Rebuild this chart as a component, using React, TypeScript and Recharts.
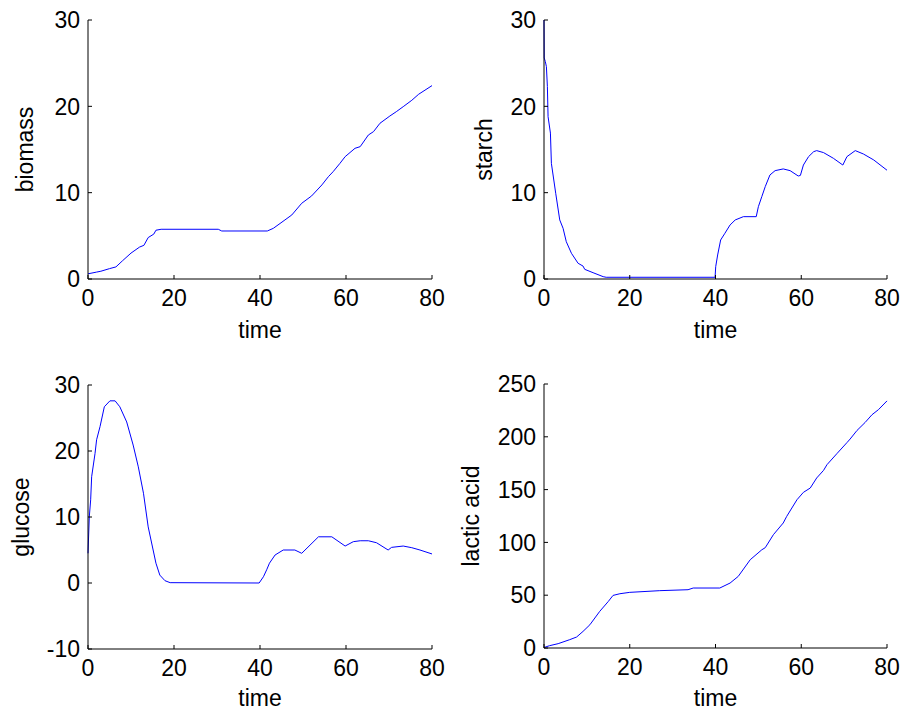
import React from 'react';
import { LineChart, Line, XAxis, YAxis } from 'recharts';

// ---- fermentation time courses (time in h) ----
const biomassTime = [0, 2, 3, 5, 6.5, 8, 10, 12, 13, 14, 15.3, 15.8, 17, 30.3, 31.1, 41.7, 43.1, 45.8, 47.4, 49.7, 52, 54.4, 55.9, 57, 58.6, 59.8, 62.1, 63.3, 65.2, 66.4, 67.9, 70.2, 71.7, 73.3, 75.3, 76.9, 80];
const biomassValues = [0.6, 0.8, 0.9, 1.2, 1.4, 2.1, 3.0, 3.7, 3.9, 4.8, 5.2, 5.65, 5.76, 5.76, 5.56, 5.56, 5.87, 6.84, 7.42, 8.77, 9.62, 10.9, 11.85, 12.43, 13.4, 14.17, 15.14, 15.33, 16.68, 17.07, 18.04, 18.88, 19.38, 19.96, 20.7, 21.4, 22.4];

const starchTime = [0, 0.05, 0.3, 0.56, 0.79, 0.95, 1.5, 1.72, 2.73, 3.67, 4.45, 5.2, 6.4, 7.95, 9.1, 9.5, 11.45, 13.8, 14.5, 39.9, 40.05, 40.5, 41.2, 42.2, 43.4, 44.6, 46.5, 49.5, 50, 50.8, 51.6, 52.7, 53.9, 55.8, 57.4, 59.3, 59.8, 60.5, 61.7, 62.9, 63.6, 65.2, 67.5, 69.7, 70.65, 72.6, 74.5, 76.9, 80];
const starchValues = [30, 25.6, 25.2, 24.6, 22.3, 18.8, 16.9, 13.4, 9.93, 6.84, 5.87, 4.32, 2.98, 1.82, 1.5, 1.12, 0.73, 0.27, 0.2, 0.2, 1.43, 2.78, 4.52, 5.3, 6.26, 6.84, 7.22, 7.22, 8.38, 9.54, 10.7, 12.05, 12.55, 12.75, 12.55, 11.93, 12.0, 13.2, 14.17, 14.75, 14.87, 14.64, 13.98, 13.2, 14.17, 14.87, 14.48, 13.79, 12.6];

const glucoseTime = [0, 0.3, 0.62, 0.85, 1.63, 2.0, 2.8, 3.8, 5.1, 6.3, 7.4, 9.0, 10.5, 11.7, 12.9, 14.0, 15.8, 16.7, 17.9, 19.1, 39.8, 40.8, 41.55, 42.2, 43.5, 45.4, 48.1, 49.7, 53.6, 56.7, 59.8, 61.7, 63.3, 65.2, 67.1, 69.8, 70.6, 73.3, 75.3, 77.2, 80];
const glucoseValues = [4.5, 10.0, 12.6, 16.1, 19.6, 21.7, 23.7, 26.7, 27.6, 27.6, 26.7, 24.4, 20.9, 17.6, 13.6, 8.5, 3.0, 1.2, 0.35, 0.05, 0, 0.95, 2.0, 3.0, 4.24, 5.0, 5.0, 4.5, 7.0, 7.0, 5.6, 6.26, 6.4, 6.4, 6.1, 5.0, 5.4, 5.6, 5.35, 5.0, 4.4];

const lacticTime = [0, 1.3, 3.3, 6.0, 7.6, 9.1, 10.7, 13.0, 15.0, 16.1, 17.7, 20.0, 27.0, 33.6, 34.8, 41.0, 43.4, 45.3, 48.1, 50.8, 51.6, 53.5, 55.8, 56.6, 59.0, 60.5, 62.1, 63.6, 65.2, 66.0, 68.3, 70.7, 71.4, 73.0, 74.9, 76.5, 78.0, 80];
const lacticValues = [0.5, 2.2, 4.1, 7.9, 10.4, 15.7, 22, 34.7, 44.1, 49.8, 51.4, 52.7, 54.3, 55.2, 56.8, 56.8, 61.5, 67.8, 83.6, 93, 95, 107.3, 118.4, 124.6, 140.4, 147.4, 151.5, 161, 168.2, 173.6, 184, 194.7, 197.9, 206, 213.6, 220.9, 225.7, 234];

// ---- axis ticks ----
const timeTicks = [0, 20, 40, 60, 80];
const biomassTicks = [0, 10, 20, 30];
const starchTicks = [0, 10, 20, 30];
const glucoseTicks = [-10, 0, 10, 20, 30];
const lacticTicks = [0, 50, 100, 150, 200, 250];

const FONT = '"Liberation Sans", Arial, Helvetica, sans-serif';
const FS = 23;
const TICK_LEN = 4;

const zip = (t: number[], v: number[]) => t.map((ti, i) => ({ t: ti, v: v[i] }));

// MATLAB-style inward ticks on all four sides of the box
const BottomTick = (props: any) => {
  const { x, y, payload } = props;
  return (
    <g>
      <line x1={x} y1={y} x2={x} y2={y - TICK_LEN} stroke="#000" strokeWidth={1} />
      <text x={x} y={y + 26.5} textAnchor="middle" fontFamily={FONT} fontSize={FS} fill="#000">
        {payload.value}
      </text>
    </g>
  );
};
const TopTick = (props: any) => {
  const { x, y } = props;
  return <line x1={x} y1={y} x2={x} y2={y + TICK_LEN} stroke="#000" strokeWidth={1} />;
};
const LeftTick = (props: any) => {
  const { x, y, payload } = props;
  return (
    <g>
      <line x1={x} y1={y} x2={x + TICK_LEN} y2={y} stroke="#000" strokeWidth={1} />
      <text x={x - 8} y={y} dy="0.36em" textAnchor="end" fontFamily={FONT} fontSize={FS} fill="#000">
        {payload.value}
      </text>
    </g>
  );
};
const RightTick = (props: any) => {
  const { x, y } = props;
  return <line x1={x} y1={y} x2={x - TICK_LEN} y2={y} stroke="#000" strokeWidth={1} />;
};

type PanelProps = {
  left: number;
  top: number;
  width: number;
  height: number;
  margin: { top: number; right: number; bottom: number; left: number };
  data: { t: number; v: number }[];
  yDomain: [number, number];
  yTicks: number[];
  yLabel: string;
  yLabelOffset: number;
  xLabelOffset: number;
};

const Panel = ({ left, top, width, height, margin, data, yDomain, yTicks, yLabel, yLabelOffset, xLabelOffset }: PanelProps) => (
  <div style={{ position: 'absolute', left, top, width, height }}>
    <LineChart width={width} height={height} data={data} margin={margin}>
      <XAxis
        xAxisId="b"
        dataKey="t"
        type="number"
        domain={[0, 80]}
        ticks={timeTicks}
        interval={0}
        height={60}
        tickSize={0}
        tickMargin={0}
        tickLine={false}
        tick={<BottomTick />}
        axisLine={{ stroke: '#000', strokeWidth: 1 }}
        label={{ value: 'time', position: 'insideBottom', offset: xLabelOffset, fill: '#000', fontSize: FS, fontFamily: FONT }}
      />
      <XAxis
        xAxisId="t"
        orientation="top"
        dataKey="t"
        type="number"
        domain={[0, 80]}
        ticks={timeTicks}
        interval={0}
        height={0}
        tickSize={0}
        tickMargin={0}
        tickLine={false}
        tick={<TopTick />}
        axisLine={{ stroke: '#000', strokeWidth: 1 }}
      />
      <YAxis
        yAxisId="l"
        dataKey="v"
        type="number"
        domain={yDomain}
        ticks={yTicks}
        interval={0}
        width={60}
        tickSize={0}
        tickMargin={0}
        tickLine={false}
        tick={<LeftTick />}
        axisLine={{ stroke: '#000', strokeWidth: 1 }}
        label={{
          value: yLabel,
          angle: -90,
          position: 'insideLeft',
          offset: yLabelOffset,
          style: { textAnchor: 'middle' },
          fill: '#000',
          fontSize: FS,
          fontFamily: FONT,
        }}
      />
      <YAxis
        yAxisId="r"
        orientation="right"
        dataKey="v"
        type="number"
        domain={yDomain}
        ticks={yTicks}
        interval={0}
        width={0}
        tickSize={0}
        tickMargin={0}
        tickLine={false}
        tick={<RightTick />}
        axisLine={{ stroke: '#000', strokeWidth: 1 }}
      />
      <Line
        xAxisId="b"
        yAxisId="l"
        type="linear"
        dataKey="v"
        stroke="#0000ff"
        strokeWidth={1}
        dot={false}
        activeDot={false}
        isAnimationActive={false}
      />
    </LineChart>
  </div>
);

export default function App() {
  return (
    <div style={{ position: 'absolute', left: 0, top: 0, width: 904, height: 713, background: '#fff', overflow: 'hidden' }}>
      <Panel
        left={0} top={0} width={452} height={356}
        margin={{ top: 20, right: 20, bottom: 17, left: 28 }}
        data={zip(biomassTime, biomassValues)}
        yDomain={[0, 30]} yTicks={biomassTicks}
        yLabel="biomass" yLabelOffset={-2.7} xLabelOffset={1}
      />
      <Panel
        left={452} top={0} width={452} height={356}
        margin={{ top: 20, right: 17, bottom: 17, left: 32 }}
        data={zip(starchTime, starchValues)}
        yDomain={[0, 30]} yTicks={starchTicks}
        yLabel="starch" yLabelOffset={0.1} xLabelOffset={1}
      />
      <Panel
        left={0} top={356} width={452} height={357}
        margin={{ top: 29, right: 20, bottom: 4, left: 28 }}
        data={zip(glucoseTime, glucoseValues)}
        yDomain={[-10, 30]} yTicks={glucoseTicks}
        yLabel="glucose" yLabelOffset={-6.9} xLabelOffset={3}
      />
      <Panel
        left={452} top={356} width={452} height={357}
        margin={{ top: 28, right: 17, bottom: 5, left: 32 }}
        data={zip(lacticTime, lacticValues)}
        yDomain={[0, 250]} yTicks={lacticTicks}
        yLabel="lactic acid" yLabelOffset={-12.9} xLabelOffset={2}
      />
    </div>
  );
}
